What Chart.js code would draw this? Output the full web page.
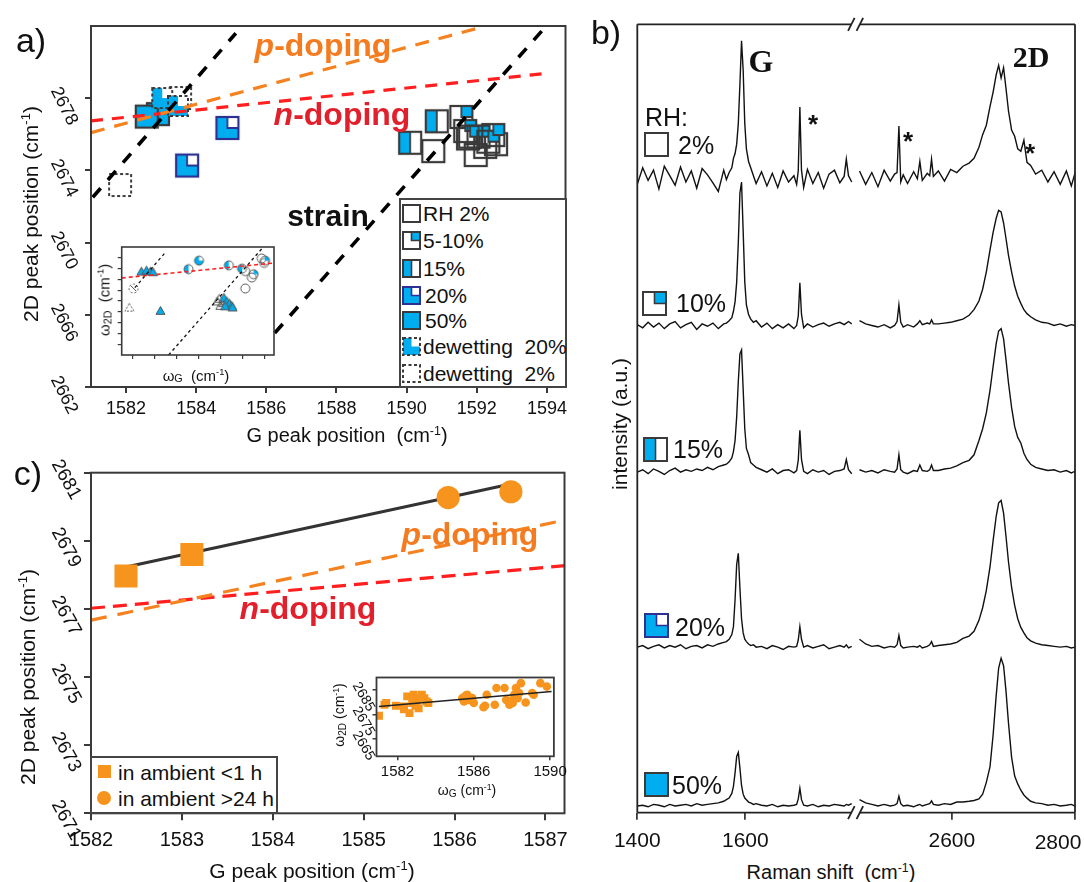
<!DOCTYPE html>
<html>
<head>
<meta charset="utf-8">
<title>Graphene Raman peaks vs humidity</title>
<script src="https://cdn.jsdelivr.net/npm/chart.js@4.4.1/dist/chart.umd.min.js"></script>
<style>
  body { margin: 0; background: #fff; }
  #fig { position: relative; width: 1084px; height: 882px; overflow: hidden;
         font-family: 'Liberation Sans', Arial, sans-serif; color: #111; }
  #fig canvas { position: absolute; }
  .t { position: absolute; white-space: pre; line-height: 1; transform: translate(-50%, -50%); }
  .t.r { transform: translate(-50%, -50%) rotate(-90deg); }
  .l { position: absolute; white-space: pre; line-height: 1; transform: translateY(-50%); }
  .b { font-weight: bold; }
  .serif { font-family: 'Liberation Serif', 'Times New Roman', serif; }
  .box { position: absolute; box-sizing: border-box; border: 2px solid #444; background: #fff; }
  sup { font-size: 62%; vertical-align: 0.6em; line-height: 0; }
  sub { font-size: 72%; vertical-align: -0.15em; line-height: 0; }
</style>
</head>
<body>
<div id="fig">
  <canvas id="ca" width="580" height="445" style="left:0;top:0"></canvas>
  <canvas id="cai" width="185" height="130" style="left:100px;top:236px"></canvas>
  <canvas id="cb" width="504" height="860" style="left:580px;top:0"></canvas>
  <canvas id="cc" width="590" height="410" style="left:0;top:450px"></canvas>
  <canvas id="cci" width="220" height="120" style="left:350px;top:665px"></canvas>

  <!-- panel letters -->
  <div class="t" style="left:31px;top:40px;font-size:34px">a)</div>
  <div class="t" style="left:606px;top:32px;font-size:34px">b)</div>
  <div class="t" style="left:28px;top:473px;font-size:34px">c)</div>

  <!-- panel a -->
  <div class="t r" style="left:30px;top:214px;font-size:21px">2D peak position (cm<sup>-1</sup>)</div>
  <div class="t" style="left:347px;top:435px;font-size:20px">G peak position  (cm<sup>-1</sup>)</div>
  <div class="t b" style="left:323px;top:45px;font-size:32px;color:#f47b20"><i>p</i>-doping</div>
  <div class="t b" style="left:342px;top:114px;font-size:32px;color:#e2202c"><i>n</i>-doping</div>
  <div class="t b" style="left:328px;top:216px;font-size:30px">strain</div>
  <div class="t" style="left:196px;top:375px;font-size:15px">ω<sub>G</sub>  (cm<sup>-1</sup>)</div>
  <div class="t r" style="left:104px;top:300px;font-size:15px">ω<sub>2D</sub>  (cm<sup>-1</sup>)</div>
  <div class="box" style="left:399px;top:198px;width:168px;height:190px"></div>
  <div class="l" style="left:423px;top:213px;font-size:21px">RH 2%</div>
  <div class="l" style="left:423px;top:240px;font-size:21px">5-10%</div>
  <div class="l" style="left:423px;top:268px;font-size:21px">15%</div>
  <div class="l" style="left:425px;top:295px;font-size:21px">20%</div>
  <div class="l" style="left:425px;top:320px;font-size:21px">50%</div>
  <div class="l" style="left:423px;top:346px;font-size:21px">dewetting  20%</div>
  <div class="l" style="left:423px;top:373px;font-size:21px">dewetting  2%</div>

  <!-- panel b -->
  <div class="t b serif" style="left:761px;top:61px;font-size:32px">G</div>
  <div class="t b serif" style="left:1031px;top:57px;font-size:30px">2D</div>
  <div class="t b" style="left:813px;top:124px;font-size:26px">*</div>
  <div class="t b" style="left:908px;top:141px;font-size:26px">*</div>
  <div class="t b" style="left:1030px;top:153px;font-size:26px">*</div>
  <div class="l" style="left:645px;top:117px;font-size:25px">RH:</div>
  <div class="l" style="left:678px;top:145px;font-size:25px">2%</div>
  <div class="l" style="left:676px;top:303px;font-size:25px">10%</div>
  <div class="l" style="left:673px;top:449px;font-size:25px">15%</div>
  <div class="l" style="left:675px;top:627px;font-size:25px">20%</div>
  <div class="l" style="left:672px;top:785px;font-size:25px">50%</div>
  <div class="t r" style="left:619px;top:424px;font-size:21px">intensity (a.u.)</div>
  <div class="t" style="left:831px;top:872px;font-size:20px">Raman shift  (cm<sup>-1</sup>)</div>
  <div class="t" style="left:1058px;top:841px;font-size:21px">2800</div>

  <!-- panel c -->
  <div class="t r" style="left:27px;top:677px;font-size:21px">2D peak position (cm<sup>-1</sup>)</div>
  <div class="t" style="left:312px;top:870px;font-size:21px">G peak position (cm<sup>-1</sup>)</div>
  <div class="t b" style="left:470px;top:534px;font-size:32px;color:#f47b20"><i>p</i>-doping</div>
  <div class="t b" style="left:308px;top:608px;font-size:32px;color:#e2202c"><i>n</i>-doping</div>
  <div class="t r" style="left:339px;top:715px;font-size:14px">ω<sub>2D</sub> (cm<sup>-1</sup>)</div>
  <div class="t" style="left:467px;top:790px;font-size:14px">ω<sub>G</sub> (cm<sup>-1</sup>)</div>
  <div class="box" style="left:90px;top:756px;width:188px;height:58px"></div>
  <div style="position:absolute;left:98px;top:765px;width:13px;height:13px;background:#f7941d"></div>
  <div style="position:absolute;left:97px;top:791px;width:14px;height:14px;border-radius:50%;background:#f7941d"></div>
  <div class="l" style="left:118px;top:772px;font-size:21px">in ambient &lt;1 h</div>
  <div class="l" style="left:118px;top:798px;font-size:21px">in ambient &gt;24 h</div>
</div>

<script>
// ---------- panel a: G vs 2D peak position, by relative humidity ----------
const aTicksG = [1582, 1584, 1586, 1588, 1590, 1592, 1594];
const aTicks2D = [2662, 2666, 2670, 2674, 2678];

const rh2G = [1590.76, 1591.97, 1591.75, 1592.24, 1592.55];
const rh2D = [2675.07, 2674.85, 2675.77, 2675.3, 2675.45];
const rh5G = [1591.56, 1591.67, 1591.81, 1592.05, 1592.33, 1592.47];
const rh5D = [2676.96, 2676.18, 2675.87, 2675.87, 2675.59, 2675.96];
const rh15G = [1590.1, 1590.86];
const rh15D = [2675.53, 2676.72];
const rh20G = [1584.89, 1583.74];
const rh20D = [2676.35, 2674.27];
const rh50G = [1582.91, 1582.59];
const rh50D = [2677.12, 2676.98];
const dew20G = [1583.03, 1583.48];
const dew20D = [2678.01, 2677.57];
const dew2G = [1583.54, 1581.83];
const dew2D = [2678.01, 2673.19];

// guide lines, two end points each
const strainAG = [1581.05, 1585.13], strainAD = [2672.51, 2681.6];
const strainBG = [1586.24, 1593.92], strainBD = [2664.99, 2681.87];
const pDopeAG = [1581.0, 1592.01], pDopeAD = [2676.09, 2681.87];
const nDopeAG = [1581.0, 1594.08], nDopeAD = [2676.74, 2679.39];

// inset of panel a (no numbers on its axes)
const insTicksX = [0.5, 1.5, 2.5, 3.5, 4.5, 5.5, 6.5];
const insTicksY = [1, 2, 3, 4, 5, 6, 7, 8, 9];
const insTriBlueX = [0.9, 1.13, 1.31, 1.43, 1.77, 4.66, 4.8, 4.92, 5.02, 4.72, 5.06];
const insTriBlueY = [7.77, 7.86, 7.77, 7.71, 4.13, 5.35, 5.0, 4.8, 4.6, 4.55, 4.45];
const insTriOpenX = [4.36, 4.5, 4.45, 4.62];
const insTriOpenY = [5.0, 4.6, 5.25, 4.85];
const insTriDashX = [0.35], insTriDashY = [4.43];
const insRingDashX = [0.54], insRingDashY = [6.16];
const insRingHalfX = [3.05, 4.89, 5.49], insRingHalfY = [7.95, 8.3, 8.0];
const insRingThreeX = [3.53], insRingThreeY = [8.74];
const insRingQuarterX = [6.02, 6.54], insRingQuarterY = [7.48, 8.74];
const insRingOpenX = [5.64, 5.94, 5.64, 6.39, 6.5], insRingOpenY = [7.77, 7.18, 6.16, 8.94, 8.53];
const insRedX = [0, 6.95], insRedY = [7.13, 8.52];
const insStrainAX = [0.6, 2.02], insStrainAY = [6.24, 9.56];
const insStrainBX = [2.14, 6.4], insStrainBY = [0, 9.85];

// ---------- panel b: Raman spectra (intensity above each baseline) ----------
const bTicksLo = [1400, 1600];
const bTicksHi = [2600, 2800];
const ramanLo = [1400, 1410, 1420, 1430, 1440, 1450, 1460, 1470, 1480, 1490, 1500, 1510, 1520, 1530, 1540, 1550, 1560,
  1565, 1570, 1575, 1578, 1581, 1584, 1587, 1590, 1593, 1596, 1599, 1602, 1606, 1610, 1615, 1620,
  1630, 1640, 1650, 1660, 1670, 1680, 1690, 1695, 1698, 1701, 1704, 1708,
  1715, 1725, 1735, 1745, 1755, 1765, 1775, 1783, 1787, 1791, 1797];
const ramanHi = [2450, 2460, 2470, 2480, 2490, 2500, 2507, 2511, 2514, 2517, 2521,
  2528, 2538, 2544, 2548, 2552, 2560, 2564, 2567, 2570, 2578, 2588, 2598, 2608,
  2618, 2628, 2636, 2644, 2650, 2656, 2662, 2667, 2672, 2676, 2680,
  2684, 2688, 2692, 2697, 2702, 2707, 2712, 2717, 2722, 2728,
  2736, 2746, 2756, 2766, 2776, 2786, 2794, 2800];

const spec2Lo = [-0.9, 1.2, -0.4, 0.9, -1.5, 1.4, 0.2, -1.0, 1.3, -0.6, 0.8, -1.4, 1.1, 0.3, -0.7, -1.8, 0.9,
  -0.3, 0.6, 1.2, 2.4, 3.0, 4.2, 6.8, 11.8, 17.3, 13.6, 6.8, 3.6, 2.0, 1.2, 0.2, -0.8,
  0.7, -1.1, 0.5, -1.3, 0.8, -0.6, 0.2, -0.9, 0.8, 8.9, 0.9, -1.3,
  1.0, -0.8, 0.6, -1.4, 0.4, 0.9, -0.7, 0.1, 2.3, 0.2, -0.6];
const spec10Lo = [0.1, -0.3, 0.4, -0.2, 0.3, -0.4, 0.2, 0.5, -0.3, 0.1, 0.4, -0.5, 0.2, -0.1, 0.3, -0.4, 0.2,
  0.3, 0.6, 1.0, 1.8, 3.0, 5.5, 10.5, 16.8, 18.2, 12.0, 5.5, 2.6, 1.4, 0.8, 0.4, 0.6,
  -0.2, 0.3, -0.4, 0.1, -0.3, 0.2, -0.4, 0.0, 1.2, 5.4, 1.4, -0.3,
  0.2, -0.2, 0.1, 0.3, -0.1, 0.2, 0.4, 0.1, 0.3, 0.5, 0.2];
const spec15Lo = [0.0, 0.3, -0.2, 0.4, 0.1, -0.3, 0.2, 0.5, 0.0, 0.3, 0.1, 0.4, 0.2, 0.6, 0.3, 0.7, 0.9,
  1.0, 1.3, 1.8, 2.6, 4.0, 7.0, 11.5, 15.0, 15.5, 10.5, 5.5, 3.0, 2.2, 1.2, 0.9, 0.6,
  0.3, 0.0, 0.4, -0.2, 0.2, 0.3, -0.1, 0.2, 1.5, 5.3, 1.6, 0.1,
  -0.2, 0.3, 0.0, 0.2, -0.3, 0.1, 0.2, 0.4, 1.6, 0.3, -0.2];
const spec20Lo = [0.0, 0.2, -0.2, 0.1, 0.3, -0.1, 0.2, 0.0, 0.3, -0.2, 0.1, 0.2, -0.1, 0.3, 0.1, 0.4, 0.6,
  0.7, 1.0, 1.6, 2.6, 6.0, 10.5, 11.9, 7.5, 3.6, 1.8, 1.0, 0.7, 0.4, 0.2, 0.3, 0.0,
  0.1, -0.2, 0.2, 0.0, -0.3, 0.1, 0.0, 0.1, 0.9, 2.6, 1.0, 0.0,
  0.2, -0.1, 0.1, 0.3, -0.2, 0.0, 0.2, 0.0, 0.3, -0.1, 0.1];
const spec50Lo = [0.0, 0.1, -0.1, 0.2, 0.1, -0.1, 0.2, 0.0, 0.1, 0.2, 0.0, 0.3, 0.1, 0.2, 0.3, 0.4, 0.6,
  0.8, 1.0, 1.6, 2.5, 4.2, 6.3, 6.8, 4.8, 2.6, 1.5, 1.0, 0.8, 0.5, 0.4, 0.2, 0.3,
  0.1, 0.0, 0.2, -0.1, 0.1, 0.0, 0.1, 0.2, 0.9, 2.25, 0.8, 0.1,
  0.0, 0.2, -0.1, 0.1, 0.0, 0.2, 0.1, 0.0, 0.2, 0.1, 0.3];

const spec2Hi = [0.8, -0.9, 0.6, -1.2, 0.9, -0.5, 0.4, 0.6, 6.5, -0.6, 0.3,
  -0.8, 0.7, -0.2, 2.0, -0.4, 0.5, 0.2, 2.3, 0.1, 0.8, -0.5, 1.0, 0.6,
  1.4, 1.8, 2.4, 3.8, 5.4, 6.6, 9.0, 10.8, 13.0, 14.2, 12.6,
  13.9, 11.2, 8.4, 6.0, 5.2, 3.6, 3.3, 4.7, 1.9, 1.5,
  0.4, 0.9, -0.6, 0.7, -0.9, 0.8, -1.1, 0.5];
const spec10Hi = [0.6, 0.2, 0.0, -0.2, 0.1, -0.3, 0.0, 0.5, 2.6, 0.4, -0.2,
  0.1, -0.2, 0.2, 0.6, 0.1, 0.3, 0.2, 0.7, 0.2, 0.2, 0.3, 0.4, 0.6,
  0.8, 1.3, 2.0, 3.1, 4.6, 6.8, 9.6, 11.8, 13.6, 14.6, 14.4,
  13.0, 11.0, 8.9, 6.8, 5.0, 3.7, 2.8, 2.0, 1.5, 1.1,
  0.7, 0.4, 0.3, 0.0, 0.2, -0.1, 0.1, 0.0];
const spec15Hi = [0.3, 0.0, 0.2, -0.1, 0.3, 0.1, 0.0, 0.4, 2.2, 0.3, 0.0,
  -0.2, 0.2, 0.1, 0.9, 0.2, 0.1, 0.3, 0.9, 0.2, 0.2, 0.4, 0.5, 0.8,
  1.2, 1.5, 2.2, 4.0, 5.5, 7.5, 10.4, 13.4, 16.3, 17.9, 18.2,
  16.9, 14.2, 11.3, 8.2, 5.8, 4.4, 3.7, 2.4, 1.6, 1.0,
  0.6, 0.4, 0.2, 0.3, 0.0, 0.2, -0.1, 0.1];
const spec20Hi = [1.0, 0.4, 0.1, 0.2, -0.1, 0.1, 0.0, 0.3, 1.5, 0.2, -0.1,
  0.0, 0.1, 0.0, 0.2, -0.1, 0.1, 0.3, 0.7, 0.1, 0.2, 0.3, 0.4, 0.6,
  1.1, 1.4, 2.0, 3.4, 5.0, 7.2, 10.2, 13.5, 16.6, 18.3, 18.6,
  17.0, 14.0, 10.8, 7.6, 5.3, 3.6, 2.5, 1.8, 1.2, 0.8,
  0.5, 0.3, 0.2, 0.1, 0.0, 0.1, -0.1, 0.0];
const spec50Hi = [0.8, 0.4, 0.2, 0.0, 0.2, 0.0, 0.1, 0.3, 1.25, 0.3, 0.0,
  0.1, -0.1, 0.1, 0.2, 0.0, 0.2, 0.3, 0.65, 0.2, 0.1, 0.3, 0.2, 0.5,
  0.5, 0.6, 0.7, 0.9, 1.5, 3.0, 5.0, 9.0, 14.0, 17.5, 18.75,
  17.8, 14.5, 10.5, 6.2, 3.8, 2.8, 2.0, 1.4, 1.0, 0.6,
  0.4, 0.3, 0.1, 0.2, 0.0, 0.1, 0.2, 0.0];
const stackOffset = [80.6, 61.8, 43.2, 21.0, 0.85];

// ---------- panel c: ageing in ambient ----------
const cTicksG = [1582, 1583, 1584, 1585, 1586, 1587];
const cTicks2D = [2671, 2673, 2675, 2677, 2679, 2681];
const freshG = [1582.385, 1583.11], freshD = [2677.97, 2678.6];
const agedG = [1585.93, 1586.62], agedD = [2680.27, 2680.44];
const fitG = [1582.385, 1586.62], fitD = [2678.23, 2680.67];
const pDopeCG = [1582.0, 1587.13], pDopeCD = [2676.67, 2679.56];
const nDopeCG = [1582.0, 1587.29], nDopeCD = [2677.02, 2678.29];

const ciTicksG = [1582, 1586, 1590];
const ciTicks2D = [2665, 2675, 2685];
const ciSqG = [1581.03, 1581.32, 1581.41, 1581.92, 1582.34, 1582.34, 1582.51, 1582.63, 1582.77,
  1582.85, 1582.94, 1582.94, 1583.02, 1583.11, 1583.28, 1583.41, 1583.53, 1583.62];
const ciSqD = [2674.4, 2678.9, 2679.6, 2678.5, 2678.2, 2677.1, 2682.3, 2675.5, 2679.6,
  2683.0, 2681.6, 2678.5, 2680.9, 2677.5, 2683.0, 2681.6, 2680.2, 2679.6];
const ciCircG = [1585.4, 1585.49, 1585.57, 1585.66, 1585.75, 1585.92, 1586.0, 1586.51, 1586.59,
  1586.68, 1587.1, 1587.19, 1587.61, 1587.7, 1587.87, 1588.04, 1588.04, 1588.12, 1588.21,
  1588.3, 1588.38, 1588.47, 1588.72, 1589.06, 1589.14, 1589.49, 1589.83];
const ciCircD = [2681.6, 2680.2, 2682.6, 2683.0, 2680.9, 2681.6, 2679.6, 2677.9, 2678.5,
  2683.0, 2678.9, 2685.7, 2685.7, 2680.9, 2678.9, 2680.9, 2679.6, 2683.0, 2685.7,
  2681.6, 2683.7, 2687.7, 2679.8, 2683.7, 2683.0, 2687.7, 2686.3];
const ciFitG = [1581.03, 1590.08], ciFitD = [2678.2, 2684.3];

// ---------- drawing ----------
Chart.defaults.font.family = "'Liberation Sans', Arial, sans-serif";
Chart.defaults.color = '#111';

const INK = '#3a3a3a', BLUE = '#00aeef', NAVY = '#2e3192';
const ORANGE = '#f58220', RED = '#ff1f1f', AMBER = '#f7941d';
const fig = document.getElementById('fig');

function sqIcon(kind, s, lw) {
  const p = Math.ceil(lw / 2) + 1;
  const c = document.createElement('canvas');
  c.width = c.height = s + 2 * p;
  c._pad = p;
  const g = c.getContext('2d'), h = s / 2;
  g.translate(p, p);
  g.fillStyle = BLUE;
  if (kind === 'full') g.fillRect(0, 0, s, s);
  if (kind === 'half') g.fillRect(0, 0, h, s);
  if (kind === 'quarter') g.fillRect(h, 0, h, h);
  if (kind === 'three' || kind === 'dew20') {
    g.fillRect(0, 0, s, s);
    g.fillStyle = '#fff';
    g.fillRect(h, 0, h, h);
  }
  g.lineWidth = lw;
  g.strokeStyle = kind === 'three' ? NAVY : INK;
  if (kind === 'dew20' || kind === 'dew2') g.setLineDash([3, 2.5]);
  g.strokeRect(0, 0, s, s);
  g.setLineDash([]);
  g.lineWidth = lw * 0.8;
  g.beginPath();
  if (kind === 'half') { g.moveTo(h, 0); g.lineTo(h, s); }
  if (kind === 'quarter' || kind === 'three') { g.moveTo(h, 0); g.lineTo(h, h); g.lineTo(s, h); }
  g.stroke();
  return c;
}

function ringIcon(kind, r, lw) {
  const p = Math.ceil(lw / 2) + 1, m = r + p;
  const c = document.createElement('canvas');
  c.width = c.height = 2 * m;
  const g = c.getContext('2d');
  g.fillStyle = BLUE;
  g.beginPath();
  if (kind === 'half') g.arc(m, m, r, Math.PI / 2, Math.PI * 1.5);
  if (kind === 'three') { g.moveTo(m, m); g.arc(m, m, r, 0, Math.PI * 1.5); }
  if (kind === 'quarter') { g.moveTo(m, m); g.arc(m, m, r, -Math.PI / 2, 0); }
  g.closePath();
  if (kind === 'half' || kind === 'three' || kind === 'quarter') g.fill();
  g.lineWidth = lw;
  g.strokeStyle = '#555';
  if (kind === 'dash') g.setLineDash([2, 2]);
  g.beginPath();
  g.arc(m, m, r, 0, Math.PI * 2);
  g.stroke();
  if (kind === 'dash') {
    g.setLineDash([]);
    g.beginPath();
    g.moveTo(m - r * 0.6, m - r * 0.6); g.lineTo(m + r * 0.6, m + r * 0.6);
    g.stroke();
  }
  return c;
}

function triIcon(kind, s, lw) {
  const p = 2, c = document.createElement('canvas');
  c.width = c.height = s + 2 * p;
  const g = c.getContext('2d'), top = p + s * 0.065, hh = s * 0.87;
  g.beginPath();
  g.moveTo(p + s / 2, top); g.lineTo(p + s, top + hh); g.lineTo(p, top + hh); g.closePath();
  if (kind === 'blue') { g.fillStyle = BLUE; g.fill(); }
  g.lineWidth = lw;
  g.strokeStyle = '#555';
  if (kind === 'dash') g.setLineDash([2, 1.5]);
  g.stroke();
  return c;
}

function place(icon, left, top) {
  icon.style.left = (left - icon._pad) + 'px';
  icon.style.top = (top - icon._pad) + 'px';
  fig.appendChild(icon);
}

const pts = (xs, ys) => xs.map((x, i) => ({ x: x, y: ys[i] }));
const fixTicks = list => s => { s.ticks = list.map(v => ({ value: v })); };
const guide = (xs, ys, color, width, dash, extra) => Object.assign({
  data: pts(xs, ys), showLine: true, borderColor: color, borderWidth: width,
  borderDash: dash, borderCapStyle: 'butt', pointRadius: 0, order: 0 }, extra || {});
const marks = (xs, ys, icon) => ({ data: pts(xs, ys), pointStyle: icon, pointRadius: 10, order: 1 });

const frame = {
  id: 'frame',
  afterDatasetsDraw(chart, args, o) {
    const { ctx, chartArea: a } = chart;
    ctx.save();
    ctx.strokeStyle = INK;
    ctx.lineWidth = o.width || 2;
    ctx.strokeRect(a.left, a.top, a.right - a.left, a.bottom - a.top);
    ctx.restore();
  }
};

// y tick labels written on a slant, as in the source figure
const slantY = {
  id: 'slantY',
  afterDraw(chart, args, o) {
    const s = chart.scales.y, ctx = chart.ctx, left = chart.chartArea.left;
    ctx.save();
    ctx.font = o.size + "px 'Liberation Sans', Arial, sans-serif";
    ctx.fillStyle = '#111';
    ctx.textAlign = 'center';
    ctx.textBaseline = 'middle';
    s.ticks.forEach(t => {
      ctx.save();
      ctx.translate(left + o.dx, s.getPixelForValue(t.value) + o.dy);
      ctx.rotate(o.angle * Math.PI / 180);
      ctx.fillText(String(t.value), 0, 0);
      ctx.restore();
    });
    ctx.restore();
  }
};

// box with the // axis break of the spectra panel
const brokenFrame = {
  id: 'brokenFrame',
  afterDatasetsDraw(chart) {
    const { ctx, chartArea: a } = chart;
    const j = chart.scales.xl.right;
    const seg = (x1, y1, x2, y2) => { ctx.beginPath(); ctx.moveTo(x1, y1); ctx.lineTo(x2, y2); ctx.stroke(); };
    ctx.save();
    ctx.strokeStyle = '#222';
    ctx.lineWidth = 1.8;
    seg(a.left, a.top, a.left, a.bottom);
    seg(a.right, a.top, a.right, a.bottom);
    [a.top, a.bottom].forEach(y => {
      seg(a.left, y, j - 2, y);
      seg(j + 6.5, y, a.right, y);
      seg(j - 5.3, y + 6.5, j + 1.3, y - 6.5);
      seg(j + 3.2, y + 6.5, j + 9.8, y - 6.5);
    });
    ctx.restore();
  }
};

function axisX(min, max, ticks, size, pad, tick, h, lw) {
  return {
    type: 'linear', position: 'bottom', min: min, max: max,
    afterBuildTicks: fixTicks(ticks), afterFit: s => { s.height = h; },
    ticks: { display: size > 0, font: { size: size || 10 }, padding: pad, autoSkip: false,
             maxRotation: 0, callback: v => (v === 2800 ? '' : String(v)) },
    grid: { drawOnChartArea: false, tickLength: tick, color: INK, lineWidth: lw },
    border: { display: false }
  };
}
function axisY(min, max, ticks, tick, w, lw) {
  return {
    type: 'linear', min: min, max: max,
    afterBuildTicks: fixTicks(ticks), afterFit: s => { s.width = w; },
    ticks: { display: false },
    grid: { drawOnChartArea: false, tickLength: tick, color: INK, lineWidth: lw },
    border: { display: false }
  };
}
const base = (pad, scales, plug) => ({
  responsive: false, animation: false, events: [],
  layout: { padding: pad }, scales: scales,
  plugins: Object.assign({ legend: { display: false }, tooltip: { enabled: false } }, plug)
});

// panel a
new Chart(document.getElementById('ca'), {
  type: 'scatter',
  data: { datasets: [
    guide(strainAG, strainAD, '#000', 3.6, [12, 11]),
    guide(strainBG, strainBD, '#000', 3.6, [12, 11]),
    guide(pDopeAG, pDopeAD, ORANGE, 3.2, [14, 10]),
    guide(nDopeAG, nDopeAD, RED, 3.2, [12, 9]),
    marks(dew20G, dew20D, sqIcon('dew20', 20, 2)),
    marks(rh50G, rh50D, sqIcon('full', 22, 2.2)),
    marks(rh20G, rh20D, sqIcon('three', 22, 2.2)),
    marks(rh15G, rh15D, sqIcon('half', 22, 2.2)),
    marks(rh5G, rh5D, sqIcon('quarter', 22, 2.2)),
    marks(rh2G, rh2D, sqIcon('open', 22, 2.2)),
    marks(dew2G, dew2D, sqIcon('dew2', 22, 2))
  ] },
  options: base({ left: 0, top: 26, right: 14.5, bottom: 0 }, {
    x: axisX(1581, 1594.53, aTicksG, 18, 5, 6, 58, 2),
    y: axisY(2662, 2682, aTicks2D, 6, 91, 2)
  }, { frame: { width: 2 }, slantY: { dx: -27, dy: 8, angle: 63, size: 18 } }),
  plugins: [frame, slantY]
});

// inset of panel a
new Chart(document.getElementById('cai'), {
  type: 'scatter',
  data: { datasets: [
    guide(insRedX, insRedY, RED, 1.6, [4, 3]),
    guide(insStrainAX, insStrainAY, '#111', 1.3, [3, 3]),
    guide(insStrainBX, insStrainBY, '#111', 1.3, [3, 3]),
    marks(insTriBlueX, insTriBlueY, triIcon('blue', 9, 1)),
    marks(insTriOpenX, insTriOpenY, triIcon('open', 9, 1)),
    marks(insTriDashX, insTriDashY, triIcon('dash', 9, 1)),
    marks(insRingHalfX, insRingHalfY, ringIcon('half', 4.5, 1)),
    marks(insRingThreeX, insRingThreeY, ringIcon('three', 4.5, 1)),
    marks(insRingQuarterX, insRingQuarterY, ringIcon('quarter', 4.5, 1)),
    marks(insRingOpenX, insRingOpenY, ringIcon('open', 4.5, 1)),
    marks(insRingDashX, insRingDashY, ringIcon('dash', 4.5, 1))
  ] },
  options: base({ left: 0, top: 8, right: 9.3, bottom: 0 }, {
    x: axisX(0, 6.95, insTicksX, 0, 0, 4, 8.3, 1.2),
    y: axisY(0, 10, insTicksY, 4, 21.7, 1.2)
  }, { frame: { width: 1.6 } }),
  plugins: [frame]
});

// panel b
const specLo = [spec2Lo, spec10Lo, spec15Lo, spec20Lo, spec50Lo];
const specHi = [spec2Hi, spec10Hi, spec15Hi, spec20Hi, spec50Hi];
const trace = (xs, ys, off, axis) => ({
  data: xs.map((x, i) => ({ x: x, y: ys[i] + off })), xAxisID: axis, yAxisID: 'y',
  showLine: true, borderColor: '#111', borderWidth: 1.4, pointRadius: 0
});
const bSets = [];
specLo.forEach((sp, k) => {
  bSets.push(trace(ramanLo, sp, stackOffset[k], 'xl'));
  bSets.push(trace(ramanHi, specHi[k], stackOffset[k], 'xr'));
});
new Chart(document.getElementById('cb'), {
  type: 'scatter',
  data: { datasets: bSets },
  options: base({ left: 57.3, top: 24.3, right: 9, bottom: 0 }, {
    xl: Object.assign(axisX(1400, 1800, bTicksLo, 21, 9, 7, 47.3, 1.8), { stack: 'raman', stackWeight: 215.7 }),
    xr: Object.assign(axisX(2440, 2800, bTicksHi, 21, 9, 7, 47.3, 1.8), { stack: 'raman', stackWeight: 221.3 }),
    y: { type: 'linear', display: false, min: 0, max: 100 }
  }, {}),
  plugins: [brokenFrame]
});

// panel c
new Chart(document.getElementById('cc'), {
  type: 'scatter',
  data: { datasets: [
    { data: pts(freshG, freshD), pointStyle: 'rect', pointRadius: 16.3, backgroundColor: AMBER, borderWidth: 0, order: 0 },
    { data: pts(agedG, agedD), pointStyle: 'circle', pointRadius: 11.6, backgroundColor: AMBER, borderWidth: 0, order: 0 },
    guide(fitG, fitD, '#333', 3, [], { order: 1 }),
    guide(pDopeCG, pDopeCD, ORANGE, 3.2, [16, 11], { order: 1 }),
    guide(nDopeCG, nDopeCD, RED, 3.2, [14, 8], { order: 1, clip: { left: 0, top: 0, right: 12, bottom: 0 } })
  ] },
  options: base({ left: 0, top: 22.7, right: 25.5, bottom: 0 }, {
    x: axisX(1582, 1587.21, cTicksG, 20, 8, 7, 46.7, 2),
    y: axisY(2671, 2681, cTicks2D, 7, 91, 2)
  }, { frame: { width: 2 }, slantY: { dx: -25, dy: 7, angle: 61, size: 19 } }),
  plugins: [frame, slantY]
});

// inset of panel c
new Chart(document.getElementById('cci'), {
  type: 'scatter',
  data: { datasets: [
    guide(ciFitG, ciFitD, '#222', 1.5, [], { order: 0 }),
    { data: pts(ciSqG, ciSqD), pointStyle: 'rect', pointRadius: 5.6, backgroundColor: AMBER, borderWidth: 0, order: 1 },
    { data: pts(ciCircG, ciCircD), pointStyle: 'circle', pointRadius: 4.3, backgroundColor: AMBER, borderWidth: 0, order: 1 }
  ] },
  options: base({ left: 0, top: 12.5, right: 11.5, bottom: 0 }, {
    x: axisX(1580.9, 1590.2, ciTicksG, 15, 3, 4, 28.7, 1.5),
    y: axisY(2657.9, 2690, ciTicks2D, 4, 26.5, 1.5)
  }, { frame: { width: 1.8 }, slantY: { dx: -13, dy: 7, angle: 60, size: 14 } }),
  plugins: [frame, slantY]
});

// legend icons (panel a legend box and panel b labels)
[['open', 204.8], ['quarter', 231.5], ['half', 259.8], ['three', 286.5],
 ['full', 311.5], ['dew20', 337.5], ['dew2', 364.8]].forEach(([k, y]) => place(sqIcon(k, 17, 2), 402.7, y));
[['open', 645, 133.3], ['quarter', 643.3, 291.7], ['half', 644, 438],
 ['three', 645, 614], ['full', 645, 772.7]].forEach(([k, x, y]) => place(sqIcon(k, 23, 2), x, y));
</script>
</body>
</html>
